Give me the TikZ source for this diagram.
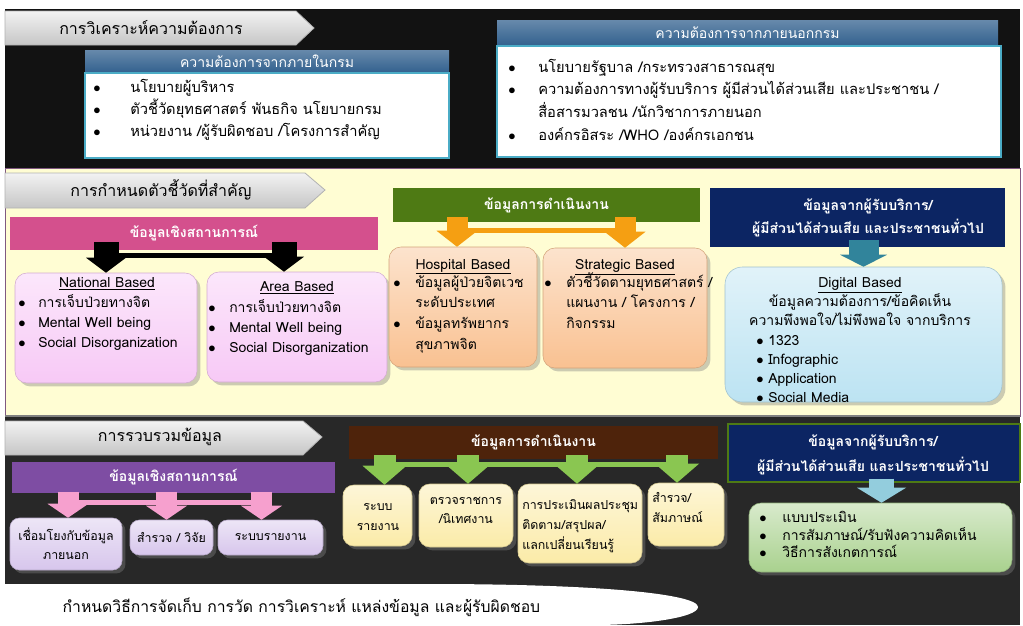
\documentclass[tikz,border=0pt]{standalone}
\usepackage{fontspec}
\setmainfont[Script=Thai]{Loma}
\usetikzlibrary{arrows.meta,fit,calc,shadows}

\definecolor{bandblack}{HTML}{121212}
\definecolor{bandcream}{HTML}{FFFDD3}
\definecolor{banddark}{HTML}{282828}
\definecolor{titleblue}{HTML}{34628F}
\definecolor{frameteal}{HTML}{4BACC6}
\definecolor{sitpink}{HTML}{D4508D}
\definecolor{boxpink}{HTML}{F7C9F6}
\definecolor{opgreen}{HTML}{4E7A14}
\definecolor{arrorange}{HTML}{F59F12}
\definecolor{boxpeach}{HTML}{F9C191}
\definecolor{navy}{HTML}{0C2563}
\definecolor{arrteal}{HTML}{31849B}
\definecolor{boxblue}{HTML}{BCE3F2}
\definecolor{sitpurple}{HTML}{7E4DA3}
\definecolor{arrpink}{HTML}{F6A0CE}
\definecolor{boxlav}{HTML}{D7C6EC}
\definecolor{opbrown}{HTML}{4E230B}
\definecolor{arrgreen}{HTML}{8AC651}
\definecolor{boxcream}{HTML}{FBEBA8}
\definecolor{arrsky}{HTML}{93CDDD}
\definecolor{boxgreen}{HTML}{A9D18E}

\newcommand{\itm}[1]{$\bullet$ & #1\\}
\newcommand{\cnt}[1]{& #1\\}

\tikzset{
  chev/.style={top color=gray!10, bottom color=gray!45, draw=gray!60, line width=0.6pt},
  head/.style={font=\fontsize{12}{15}\selectfont, text=black},
  tbar/.style={inner sep=0pt, top color=titleblue!75, bottom color=titleblue},
  frame/.style={inner sep=0pt, fill=white, draw=frameteal, line width=2pt},
  bar/.style={inner sep=0pt, fill=#1},
  bartxt/.style={text=white, align=center, font=\fontsize{10.5}{14}\selectfont\bfseries},
  box/.style={inner sep=0pt, rounded corners=9pt, top color=#1!45, bottom color=#1, draw=#1!85!black, line width=0.4pt, drop shadow={opacity=0.4}},
  lst/.style={anchor=base west, inner sep=0pt},
  ctr/.style={anchor=base, inner sep=0pt},
  small/.style={font=\fontsize{9.3}{14.25}\selectfont},
  barr/.style n args={4}{draw=#1, line width=#2, -{Triangle[width=#3, length=#4, line width=0pt]}},
  link/.style={draw=#1, line width=3.75pt}
}

\begin{document}
\begin{tikzpicture}[x=0.75pt,y=0.75pt,yscale=-1,xscale=1]
\useasboundingbox (0,0) rectangle (1023,625);
\fill[white] (0,0) rectangle (1023,625);

%Bands
\fill[bandblack] (5,9) rectangle (1020,168);
\filldraw[fill=bandcream, draw=gray!70!violet, line width=0.6pt] (5,168) rectangle (1020,416);
\fill[banddark] (5,416) rectangle (1020,625);
\draw[gray, line width=1.2pt] (5,416) -- (1020,416);

%Shape: Chevron -- needs analysis
\shade[chev] (5,11) -- (296,11) -- (314,28) -- (296,45) -- (5,45) -- cycle;
\node[head] (hdneed) at (151,28) {การวิเคราะห์ความต้องการ};

%Internal needs
\node[tbar, fit={(85,50) (449,72)}] (inbar) {};
\node[bartxt, font=\fontsize{10.5}{14}\selectfont] (inbartxt) at (inbar) {ความต้องการจากภายในกรม};
\node[frame, fit={(85,73) (449,158)}] (inbox) {};
\node[lst, font=\fontsize{11}{16.5}\selectfont] (inlist) at (93,92) {\begin{tabular}[t]{@{}p{27.75pt}@{}l@{}}
\itm{นโยบายผู้บริหาร}
\itm{ตัวชี้วัดยุทธศาสตร์ พันธกิจ นโยบายกรม}
\itm{หน่วยงาน /ผู้รับผิดชอบ /โครงการสำคัญ}
\end{tabular}};

%External needs
\node[tbar, fit={(497,20) (998,45)}] (exbar) {};
\node[bartxt, font=\fontsize{10.5}{14}\selectfont] (exbartxt) at (exbar) {ความต้องการจากภายนอกกรม};
\node[frame, fit={(497,46) (1001,157)}] (exbox) {};
\node[lst, font=\fontsize{11}{17}\selectfont] (exlist) at (508,72) {\begin{tabular}[t]{@{}p{22.5pt}@{}l@{}}
\itm{นโยบายรัฐบาล /กระทรวงสาธารณสุข}
\itm{ความต้องการทางผู้รับบริการ ผู้มีส่วนได้ส่วนเสีย และประชาชน /}
\cnt{สื่อสารมวลชน /นักวิชาการภายนอก}
\itm{องค์กรอิสระ /WHO /องค์กรเอกชน}
\end{tabular}};

%Shape: Chevron -- key indicators
\shade[chev] (5,173) -- (305,173) -- (325,190) -- (305,208) -- (5,208) -- cycle;
\node[head] (hdind) at (161,190) {การกำหนดตัวชี้วัดที่สำคัญ};

\node[bar=sitpink, fit={(10,217) (378,250)}] (sit) {};
\node[bartxt] (sittxt) at (sit) {ข้อมูลเชิงสถานการณ์};
\node[box=boxpink, fit={(15,273) (197,383)}] (natl) {};
\node[box=boxpink, fit={(207,272) (387,382)}] (area) {};
\node[ctr, font=\fontsize{10.5}{15}\selectfont] (natlhd) at (107,287) {\underline{National Based}};
\node[lst, font=\fontsize{10.5}{15}\selectfont] (natllist) at (18,307) {\begin{tabular}[t]{@{}p{15pt}@{}l@{}}
\itm{การเจ็บป่วยทางจิต}
\itm{Mental Well being}
\itm{Social Disorganization}
\end{tabular}};
\node[ctr, font=\fontsize{10.5}{15}\selectfont] (areahd) at (297,291) {\underline{Area Based}};
\node[lst, font=\fontsize{10.5}{15}\selectfont] (arealist) at (208,312) {\begin{tabular}[t]{@{}p{15.75pt}@{}l@{}}
\itm{การเจ็บป่วยทางจิต}
\itm{Mental Well being}
\itm{Social Disorganization}
\end{tabular}};

\node[bar=opgreen, fit={(393,188) (700,222)}] (opd) {};
\node[bartxt] (opdtxt) at (opd) {ข้อมูลการดำเนินงาน};
\node[box=boxpeach, fit={(389,247) (537,367)}] (hosp) {};
\node[box=boxpeach, fit={(543,248) (707,368)}] (strat) {};
\node[ctr, font=\fontsize{10.5}{15}\selectfont] (hosphd) at (463,269) {\underline{Hospital Based}};
\node[lst, font=\fontsize{10.5}{15.5}\selectfont] (hosplist) at (393,287) {\begin{tabular}[t]{@{}p{16.5pt}@{}l@{}}
\itm{ข้อมูลผู้ป่วยจิตเวช}
\cnt{ระดับประเทศ}
\itm{ข้อมูลทรัพยากร}
\cnt{สุขภาพจิต}
\end{tabular}};
\node[ctr, font=\fontsize{10.5}{15}\selectfont] (strathd) at (625,269) {\underline{Strategic Based}};
\node[lst, font=\fontsize{10.5}{15.5}\selectfont] (stratlist) at (544,287) {\begin{tabular}[t]{@{}p{16.5pt}@{}l@{}}
\itm{ตัวชี้วัดตามยุทธศาสตร์ /}
\cnt{แผนงาน / โครงการ /}
\cnt{กิจกรรม}
\end{tabular}};

\node[bar=navy, fit={(710,188) (1005,247)}] (svc) {};
\node[bartxt, font=\fontsize{10.5}{17}\selectfont\bfseries] (svctxt) at (868,218) {ข้อมูลจากผู้รับบริการ/\\ผู้มีส่วนได้ส่วนเสีย และประชาชนทั่วไป};
\node[box=boxblue, rounded corners=13pt, fit={(725,267) (1002,402)}] (dig) {};
\node[ctr, font=\fontsize{10.5}{14.5}\selectfont] (dighd) at (860,287) {\begin{tabular}[t]{@{}c@{}}
\underline{Digital Based}\\
ข้อมูลความต้องการ/ข้อคิดเห็น\\
ความพึงพอใจ/ไม่พึงพอใจ จากบริการ
\end{tabular}};
\node[lst, font=\fontsize{10.5}{14.2}\selectfont] (diglist) at (756,345.5) {\begin{tabular}[t]{@{}p{9pt}@{}l@{}}
\itm{1323}
\itm{Infographic}
\itm{Application}
\itm{Social Media}
\end{tabular}};

%Arrows -- key indicators
\draw[link=black] ($(natl.north |- sit.south)+(0,5)$) -- ($(area.north |- sit.south)+(-13,5)$);
\draw[barr={black}{18.75pt}{30pt}{11.25pt}] ($(natl.north |- sit.south)+(0,-8)$) -- (natl.north);
\draw[barr={black}{18.75pt}{30pt}{11.25pt}] ($(area.north |- sit.south)+(-13,-8)$) -- ($(area.north)+(-13,0)$);
\draw[link=arrorange] ($(hosp.north |- opd.south)+(-6,8)$) -- ($(strat.north |- opd.south)+(0,8)$);
\draw[barr={arrorange}{15.75pt}{30.75pt}{12pt}] ($(hosp.north |- opd.south)+(-6,-5)$) -- ($(hosp.north)+(-6,0)$);
\draw[barr={arrorange}{15.75pt}{30.75pt}{12pt}] ($(strat.north |- opd.south)+(0,-5)$) -- (strat.north);
\draw[barr={arrteal}{22.5pt}{35.25pt}{9pt}] ($(dig.north |- svc.south)+(0,-7)$) -- (dig.north);

%Shape: Chevron -- data collection
\shade[chev] (5,421) -- (303,421) -- (322,437) -- (303,455) -- (5,455) -- cycle;
\node[head] (hdcol) at (160,437) {การรวบรวมข้อมูล};

\node[bar=sitpurple, fit={(12,462) (335,493)}] (sit3) {};
\node[bartxt] (sit3txt) at (sit3) {ข้อมูลเชิงสถานการณ์};
\node[box=boxlav, rounded corners=7pt, fit={(10,518) (122,570)}] (lnk) {};
\node[box=boxlav, rounded corners=7pt, fit={(130,520) (213,555)}] (srv) {};
\node[box=boxlav, rounded corners=7pt, fit={(218,520) (323,555)}] (rpt) {};
\node[small, align=center] (lnktxt) at (lnk) {เชื่อมโยงกับข้อมูล\\ภายนอก};
\node[small] (srvtxt) at (srv) {สำรวจ / วิจัย};
\node[small] (rpttxt) at (rpt) {ระบบรายงาน};

\node[bar=opbrown, fit={(349,426) (718,459)}] (opd3) {};
\node[bartxt] (opd3txt) at (opd3) {ข้อมูลการดำเนินงาน};
\node[box=boxcream, rounded corners=8pt, fit={(343,485) (412,546)}] (sysr) {};
\node[box=boxcream, rounded corners=8pt, fit={(419,484) (513,547)}] (insp) {};
\node[box=boxcream, rounded corners=8pt, fit={(518,484) (642,563)}] (eval) {};
\node[box=boxcream, rounded corners=8pt, fit={(648,483) (724,546)}] (intv) {};
\node[small, font=\fontsize{9.3}{15}\selectfont, align=center] (sysrtxt) at (378,517) {ระบบ\\รายงาน};
\node[small, align=center] (insptxt) at (466,510) {ตรวจราชการ\\/นิเทศงาน};
\node[lst, small, font=\fontsize{9.3}{15}\selectfont] (evaltxt) at (522,509) {\begin{tabular}[t]{@{}l@{}}
การประเมินผลประชุม\\
ติดตาม/สรุปผล/\\
แลกเปลี่ยนเรียนรู้
\end{tabular}};
\node[lst, small, font=\fontsize{9.3}{15}\selectfont] (intvtxt) at (652,502) {\begin{tabular}[t]{@{}l@{}}
สำรวจ/\\
สัมภาษณ์
\end{tabular}};

\node[bar=navy, draw=opgreen, line width=1pt, fit={(728,424) (1020,482)}] (svc3) {};
\node[bartxt, font=\fontsize{10.5}{18.75}\selectfont\bfseries] (svc3txt) at (873,455) {ข้อมูลจากผู้รับบริการ/\\ผู้มีส่วนได้ส่วนเสีย และประชาชนทั่วไป};
\node[box=boxgreen, rounded corners=9pt, fit={(749,503) (1012,572)}] (grn) {};
\node[lst, font=\fontsize{10.5}{13.1}\selectfont] (grnlist) at (759,522) {\begin{tabular}[t]{@{}p{17.25pt}@{}l@{}}
\itm{แบบประเมิน}
\itm{การสัมภาษณ์/รับฟังความคิดเห็น}
\itm{วิธีการสังเกตการณ์}
\end{tabular}};

%Arrows -- data collection
\draw[link=arrpink] ($(lnk.north |- sit3.south)+(2,9)$) -- ($(rpt.north |- sit3.south)+(-9,9)$);
\draw[barr={arrpink}{15.75pt}{30.75pt}{10.5pt}] ($(lnk.north |- sit3.south)+(2,-1)$) -- ($(lnk.north)+(2,0)$);
\draw[barr={arrpink}{15.75pt}{30.75pt}{10.5pt}] ($(srv.north |- sit3.south)+(-5,-1)$) -- ($(srv.north)+(-5,0)$);
\draw[barr={arrpink}{15.75pt}{30.75pt}{10.5pt}] ($(rpt.north |- sit3.south)+(-9,-1)$) -- ($(rpt.north)+(-9,0)$);
\draw[link=arrgreen] ($(sysr.north |- opd3.south)+(7,5)$) -- ($(intv.north |- opd3.south)+(-9,5)$);
\draw[barr={arrgreen}{16.5pt}{33pt}{14.25pt}] ($(sysr.north |- opd3.south)+(7,-4)$) -- ($(sysr.north)+(7,0)$);
\draw[barr={arrgreen}{16.5pt}{33pt}{14.25pt}] ($(insp.north |- opd3.south)+(2,-4)$) -- ($(insp.north)+(2,0)$);
\draw[barr={arrgreen}{16.5pt}{33pt}{14.25pt}] ($(eval.north |- opd3.south)+(-3,-4)$) -- ($(eval.north)+(-3,0)$);
\draw[barr={arrgreen}{16.5pt}{33pt}{14.25pt}] ($(intv.north |- opd3.south)+(-9,-4)$) -- ($(intv.north)+(-9,0)$);
\draw[barr={arrsky}{18.75pt}{36.75pt}{11.25pt}] ($(grn.north |- svc3.south)+(1,-4)$) -- ($(grn.north)+(1,0)$);

%Shape: bottom banner
\fill[white] (5,584) -- (430,584) .. controls (600,584) and (698,594) .. (698,607) .. controls (698,618) and (640,625) .. (595,625) -- (5,625) -- cycle;
\node[anchor=west, font=\fontsize{11.8}{15}\selectfont] (plan) at (58,607) {กำหนดวิธีการจัดเก็บ การวัด การวิเคราะห์ แหล่งข้อมูล และผู้รับผิดชอบ};
\end{tikzpicture}
\end{document}
